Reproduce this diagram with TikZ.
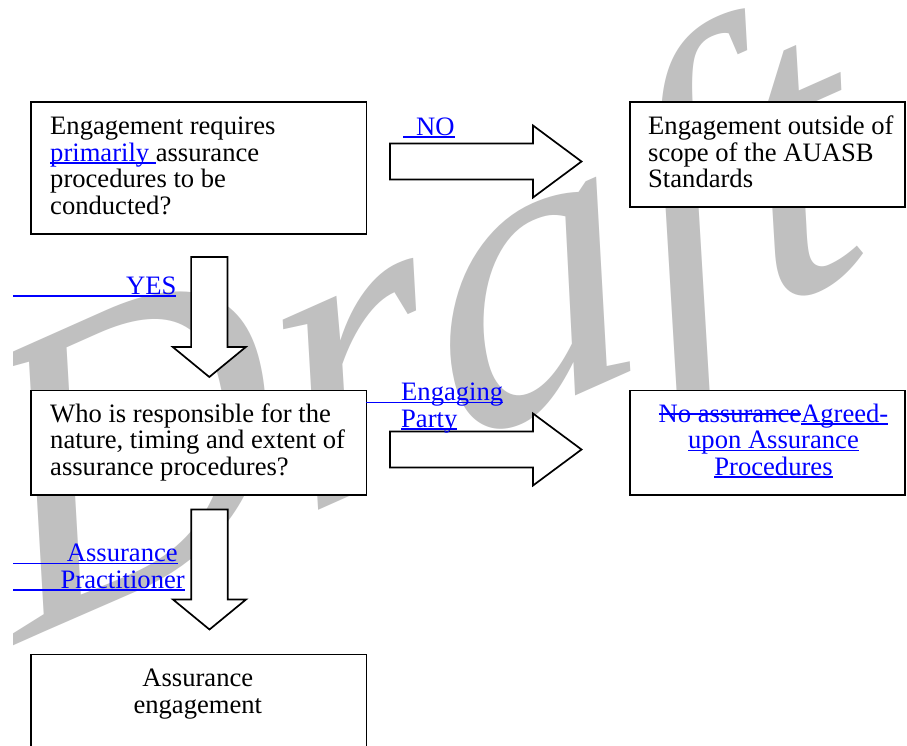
\documentclass[tikz,border=0pt]{standalone}
\usepackage{fontspec}
\setmainfont{Liberation Serif}
\definecolor{wm}{RGB}{192,192,192}
\definecolor{lnk}{RGB}{0,0,255}
\newcommand\myul[1]{\setbox0\hbox{#1}\rlap{\rule[-2.8pt]{\wd0}{1.7pt}}\box0}
\newcommand\mysout[1]{\setbox0\hbox{#1}\rlap{\rule[7.5pt]{\wd0}{1.6pt}}\box0}
\tikzset{
  box/.style={draw, line width=1.7pt, fill=white, inner sep=0, anchor=north west},
  txt/.style={inner sep=0, font=\fontsize{26.6}{26.5}\selectfont, anchor=base west, align=left},
  ctxt/.style={inner sep=0, font=\fontsize{26.6}{26.5}\selectfont, anchor=base, align=center},
  lbl/.style={txt, text=lnk},
  arrowline/.style={draw, line width=1.7pt, fill=white, line join=miter},
  rblock/.pic={\path[arrowline] (0,-18) -- (143,-18) -- (143,-36) -- (191.5,0) -- (143,36) -- (143,18) -- (0,18) -- cycle;},
  dblock/.pic={\path[arrowline] (-18.2,0) -- (-18.2,90) -- (-36.5,90) -- (0,120) -- (36.5,90) -- (18.2,90) -- (18.2,0) -- cycle;}
}
\begin{document}
\begin{tikzpicture}[x=1pt,y=-1pt]
\useasboundingbox (0,0) rectangle (907,745);
\clip (0,0) rectangle (907,745);
\fill[white] (0,0) rectangle (907,745);
% watermark
\begin{scope}
\clip (13,0) rectangle (907,745);
\node[rotate=24, xscale=1.06, xslant=0.18, anchor=base west, inner sep=0, text=wm, font=\fontsize{410}{410}\selectfont\itshape] (wmark) at (16,645) {Draft};
\end{scope}
% boxes
\node[box, minimum width=335.5pt, minimum height=132pt] (q1) at (30,101) {};
\node[box, minimum width=275pt, minimum height=105pt] (out) at (629,101) {};
\node[box, minimum width=335.5pt, minimum height=104.5pt] (q2) at (30,389.5) {};
\node[box, minimum width=275pt, minimum height=104.5pt] (aup) at (629,389.5) {};
\node[box, minimum width=335.5pt, minimum height=120pt] (ae) at (30,653.7) {};
% block arrows
\coordinate (noA) at (390,161.5);
\coordinate (epA) at (390,449.5);
\coordinate (yesA) at (209.3,257);
\coordinate (apA) at (209.5,509.5);
\pic at (noA) {rblock};
\pic at (epA) {rblock};
\pic at (yesA) {dblock};
\pic at (apA) {dblock};
% box texts (base anchor = last line baseline)
\node[txt] (q1t) at (50,214) {Engagement requires\\\textcolor{lnk}{\myul{primarily }}assurance\\procedures to be\\conducted?};
\node[txt] (outt) at (648,187.5) {Engagement outside of\\scope of the AUASB\\Standards};
\node[txt] (q2t) at (50,475) {Who is responsible for the\\nature, timing and extent of\\assurance procedures?};
\node[ctxt, text=lnk] (aupt) at (773.5,475) {\mysout{No assurance}\myul{Agreed-}\\\myul{upon Assurance}\\\myul{Procedures}};
\node[ctxt] (aet) at (197.8,713.2) {Assurance\\engagement};
% connector labels
\node[lbl] (nol) at (403,135) {\myul{\hspace*{13pt}NO}};
\node[lbl, anchor=base east] (yesl) at (176.5,294) {\myul{\makebox[163.5pt][r]{YES}}};
\node[lbl] (epl) at (366,427) {\myul{\hspace*{35pt}Engaging}\\\hspace*{35pt}\myul{Party}};
\node[lbl] (apl) at (13,588) {\myul{\makebox[164.5pt][r]{Assurance}}\\\myul{\makebox[171.5pt][r]{Practitioner}}};
\end{tikzpicture}
\end{document}
